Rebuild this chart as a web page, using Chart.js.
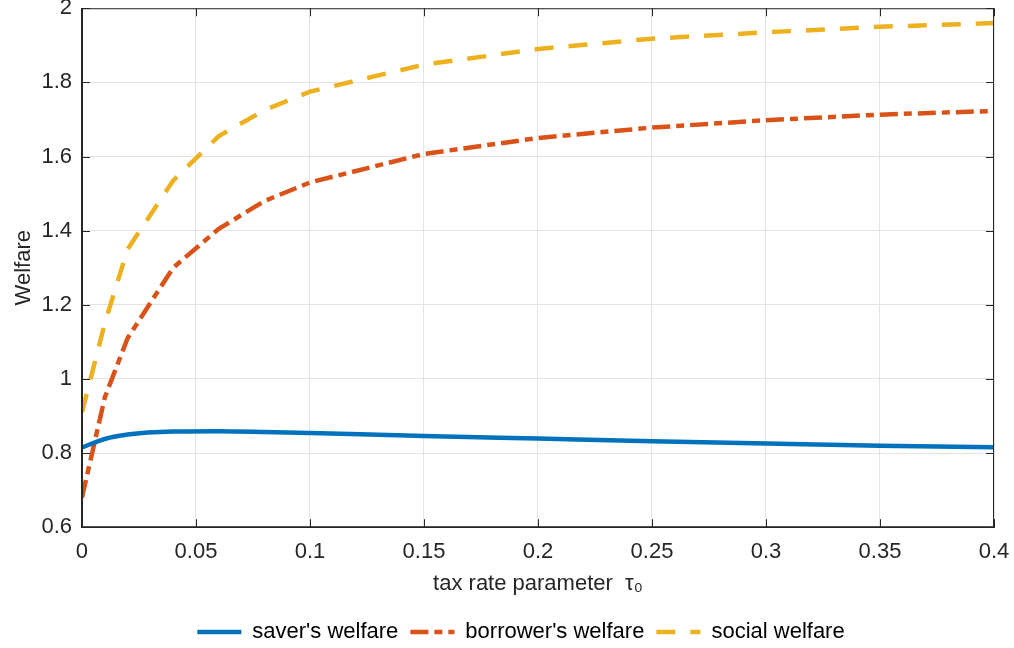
<!DOCTYPE html>
<html>
<head>
<meta charset="utf-8">
<script src="https://cdn.jsdelivr.net/npm/chart.js@4"></script>
<style>
body { margin: 0; background: #fff; }
#wrap { width: 1014px; height: 648px; }
</style>
</head>
<body>
<div id="wrap"><canvas id="myChart" width="1014" height="648"></canvas></div>
<script>
var tau = [0, 0.01, 0.02, 0.04, 0.06, 0.08, 0.1, 0.15, 0.2, 0.25, 0.3, 0.35, 0.4]
var saver = [0.815, 0.838, 0.85, 0.858, 0.859, 0.857, 0.854, 0.846, 0.839, 0.832, 0.826, 0.82, 0.816]
var borrower = [0.68, 0.95, 1.11, 1.30, 1.405, 1.48, 1.53, 1.607, 1.65, 1.678, 1.698, 1.713, 1.723]
var social = [0.91, 1.15, 1.35, 1.535, 1.655, 1.725, 1.775, 1.848, 1.89, 1.918, 1.935, 1.95, 1.96]
var names = ["saver's welfare", "borrower's welfare", "social welfare"]

function pts(ys){
    var out = []
    for(var i = 0; i < tau.length; i++){
        out.push({x: tau[i], y: ys[i]})
    }
    return out
}

var fnt = "'Liberation Sans', Arial, sans-serif"

// box round the plot with inner tick marks, like matlab
var frame = {
    id: "frame",
    afterLayout: function(chart){
        // legend sits a bit right of centre in the original
        if(chart.legend){
            chart.legend.left += 20
            chart.legend.right += 20
        }
    },
    afterDraw: function(chart){
        var a = chart.chartArea
        var c = chart.ctx
        var sx = chart.scales.x
        var sy = chart.scales.y
        c.save()
        c.strokeStyle = "#262626"
        c.lineWidth = 1
        c.setLineDash([])
        c.strokeRect(a.left + 0.5, a.top + 0.5, a.right - a.left - 1, a.bottom - a.top - 1)
        c.beginPath()
        sx.ticks.forEach(function(t){
            var px = Math.round(sx.getPixelForValue(t.value)) + 0.5
            c.moveTo(px, a.bottom); c.lineTo(px, a.bottom - 8)
            c.moveTo(px, a.top); c.lineTo(px, a.top + 8)
        })
        sy.ticks.forEach(function(t){
            var py = Math.round(sy.getPixelForValue(t.value)) + 0.5
            c.moveTo(a.left, py); c.lineTo(a.left + 8, py)
            c.moveTo(a.right, py); c.lineTo(a.right - 8, py)
        })
        c.stroke()
        c.restore()
    }
}

new Chart("myChart", {
    type: "line",
    data: {
        datasets: [{
            label: names[0],
            data: pts(saver),
            borderColor: "#0072BD",
            backgroundColor: "#0072BD",
            borderWidth: 4.5,
            pointRadius: 0,
            pointStyle: "line",
            cubicInterpolationMode: "monotone"
        }, {
            label: names[1],
            data: pts(borrower),
            borderColor: "#D95319",
            backgroundColor: "#D95319",
            borderWidth: 4.5,
            borderDash: [18, 6, 8, 6],
            pointRadius: 0,
            pointStyle: "line",
            tension: 0
        }, {
            label: names[2],
            data: pts(social),
            borderColor: "#EDB120",
            backgroundColor: "#EDB120",
            borderWidth: 4.5,
            borderDash: [19, 15],
            pointRadius: 0,
            pointStyle: "line",
            tension: 0
        }]
    },
    options: {
        responsive: false,
        animation: false,
        layout: { padding: { left: 8, right: 20, top: 0, bottom: -5 } },
        plugins: {
            legend: {
                position: "bottom",
                labels: {
                    usePointStyle: true,
                    pointStyleWidth: 44,
                    boxHeight: 4,
                    padding: 12,
                    color: "#000",
                    font: { family: fnt, size: 22 },
                    generateLabels: function(chart){
                        var items = Chart.defaults.plugins.legend.labels.generateLabels(chart)
                        items.forEach(function(it){
                            var ds = chart.data.datasets[it.datasetIndex]
                            it.lineDash = ds.borderDash || []
                            it.lineWidth = 4.5
                            it.strokeStyle = ds.borderColor
                        })
                        return items
                    }
                }
            },
            tooltip: { enabled: false }
        },
        scales: {
            x: {
                type: "linear",
                min: 0,
                max: 0.4,
                ticks: {
                    stepSize: 0.05,
                    color: "#262626",
                    padding: 0,
                    font: { family: fnt, size: 22 },
                    maxRotation: 0,
                    callback: function(v){ return String(Math.round(v * 100) / 100) }
                },
                grid: { color: "#e3e3e3", tickLength: 12, tickColor: "rgba(0,0,0,0)" },
                border: { color: "#262626" },
                title: {
                    display: true,
                    text: "tax rate parameter  \u03c4\u2080",
                    color: "#262626",
                    font: { family: fnt, size: 22 },
                    padding: { top: 5, bottom: 12 }
                }
            },
            y: {
                min: 0.6,
                max: 2,
                ticks: {
                    stepSize: 0.2,
                    color: "#262626",
                    padding: 0,
                    font: { family: fnt, size: 22, lineHeight: 0.75 },
                    callback: function(v){ return String(Math.round(v * 10) / 10) }
                },
                grid: { color: "#e3e3e3", tickLength: 10, tickColor: "rgba(0,0,0,0)" },
                border: { color: "#262626" },
                title: {
                    display: true,
                    text: "Welfare",
                    color: "#262626",
                    font: { family: fnt, size: 22 },
                    padding: { top: 3, bottom: 4 }
                }
            }
        }
    },
    plugins: [frame]
});
</script>
</body>
</html>
